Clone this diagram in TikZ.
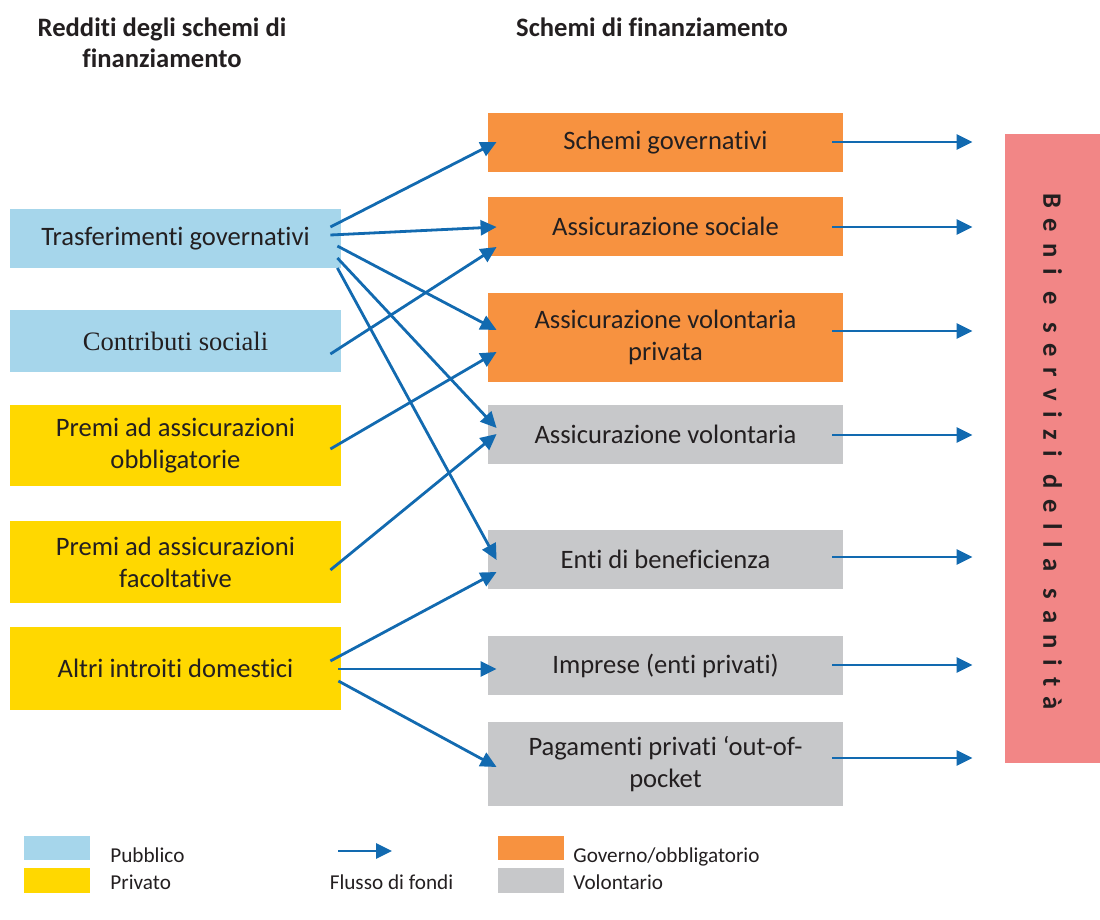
\documentclass[tikz,border=0pt]{standalone}
\usepackage{fontspec}
\setmainfont{Carlito}[RawFeature=-liga]
\newfontfamily\serifbox{Liberation Serif}
\newfontfamily\spacedfont{Carlito}[LetterSpace=41,RawFeature=-liga]
\usetikzlibrary{calc,arrows.meta}
\definecolor{pubblico}{RGB}{166,214,235}
\definecolor{privato}{RGB}{255,216,0}
\definecolor{governo}{RGB}{247,146,64}
\definecolor{volontario}{RGB}{199,200,202}
\definecolor{sanitacol}{RGB}{242,134,134}
\definecolor{fondi}{RGB}{18,106,176}
\definecolor{testo}{RGB}{35,31,32}

\tikzset{
	box/.style={inner sep=0pt, align=center, text=testo, font=\fontsize{13.3}{16}\selectfont},
	lbox/.style={box, minimum width=165.5pt},
	mbox/.style={box, minimum width=177.5pt},
	keybox/.style={inner sep=0pt, minimum width=33pt, minimum height=12.25pt},
	keytext/.style={anchor=base west, inner sep=0pt, text=testo, font=\fontsize{10.6}{12}\selectfont},
	flow/.style={draw=fondi, line width=1.4pt, -{Triangle[length=8pt,width=7.5pt]}},
	title/.style={align=center, text=testo, font=\bfseries\fontsize{13.3}{15.5}\selectfont}
}

\begin{document}
\begin{tikzpicture}[x=0.5pt, y=-0.5pt]
			%%%%% START %%%%%
			\useasboundingbox (0,0) rectangle (1100,920);
			
			\node[title] (titleL) at (162,42.5) {Redditi degli schemi di\\finanziamento};
			\node[title] (titleR) at (652,27) {Schemi di finanziamento};
			
			% redditi
			\node[lbox, fill=pubblico, minimum height=29.5pt] (trasf) at (175.5,238.5) {Trasferimenti governativi};
			\node[lbox, fill=pubblico, minimum height=31pt, font=\serifbox\fontsize{13.3}{16}\selectfont] (contrib) at (175.5,341) {Contributi sociali};
			\node[lbox, fill=privato, minimum height=40.5pt] (obblig) at (175.5,445.5) {Premi ad assicurazioni\\obbligatorie};
			\node[lbox, fill=privato, minimum height=41pt] (facolt) at (175.5,562) {Premi ad assicurazioni\\facoltative};
			\node[lbox, fill=privato, minimum height=41.5pt] (altri) at (175.5,668.5) {Altri introiti domestici};
			
			% schemi
			\node[mbox, fill=governo, minimum height=29.5pt] (schemi) at (665.5,142.5) {Schemi governativi};
			\node[mbox, fill=governo, minimum height=29.5pt] (sociale) at (665.5,226.5) {Assicurazione sociale};
			\node[mbox, fill=governo, minimum height=44.5pt] (volpriv) at (665.5,337.5) {Assicurazione volontaria\\privata};
			\node[mbox, fill=volontario, minimum height=29.5pt] (volont) at (665.5,434.5) {Assicurazione volontaria};
			\node[mbox, fill=volontario, minimum height=29.5pt] (enti) at (665.5,559.5) {Enti di beneficienza};
			\node[mbox, fill=volontario, minimum height=29.5pt] (imprese) at (665.5,665.5) {Imprese (enti privati)};
			\node[mbox, fill=volontario, minimum height=42pt] (pagam) at (665.5,764) {Pagamenti privati ‘out-of-\\pocket};
			
			% beni e servizi
			\node[fill=sanitacol, inner sep=0pt, minimum width=47.5pt, minimum height=314.5pt] (sanita) at (1052.5,448.5) {};
			\node[rotate=-90, text=testo, font=\spacedfont\bfseries\fontsize{13.3}{16}\selectfont] (beni) at ($(sanita.center)+(0,3)$) {Beni e servizi della sanità};
			
			% flussi
			\foreach \a/\sx/\sy/\b/\ey in {trasf/-11/-11.5/schemi/-0.5, trasf/-11/-3.5/sociale/0.5, trasf/-4/7.5/volpriv/-7.5, trasf/-4/19.5/volont/-6.5, trasf/-4/29.5/enti/0.5, contrib/-11/13/sociale/20.5, obblig/-11/3.5/volpriv/14.5, facolt/-11/8/volont/-0.5, altri/-11/-7.5/enti/12.5, altri/-3/0.5/imprese/3.5, altri/-3/12.5/pagam/3}
				\draw[flow] ($(\a.east)+(\sx,\sy)$) -- ($(\b.west)+(9,\ey)$);
			
			\foreach \n/\dy in {schemi/-0.5, sociale/0.5, volpriv/-6.5, volont/0.5, enti/-2.5, imprese/-0.5, pagam/-6}
				\draw[flow] ($(\n.east)+(-11,\dy)$) -- ($(\n.east -| sanita.west)+(-32,\dy)$);
			
			% legenda
			\node[keybox, fill=pubblico] (keyPub) at (57,848) {};
			\node[keybox, fill=privato] (keyPriv) at (57,880.5) {};
			\node[keytext] (txtPub) at (110,862) {Pubblico};
			\node[keytext] (txtPriv) at (110,889) {Privato};
			
			\coordinate (keyFlowA) at (338,851);
			\coordinate (keyFlowB) at (392,851);
			\draw[flow] (keyFlowA) -- (keyFlowB);
			\node[keytext, anchor=base] (txtFlow) at (391.5,889) {Flusso di fondi};
			
			\node[keybox, fill=governo] (keyGov) at (531,848) {};
			\node[keybox, fill=volontario] (keyVol) at (531,880.5) {};
			\node[keytext] (txtGov) at (573,862) {Governo/obbligatorio};
			\node[keytext] (txtVol) at (573,889) {Volontario};
			
			%%%%% END %%%%%
		\end{tikzpicture}
\end{document}
